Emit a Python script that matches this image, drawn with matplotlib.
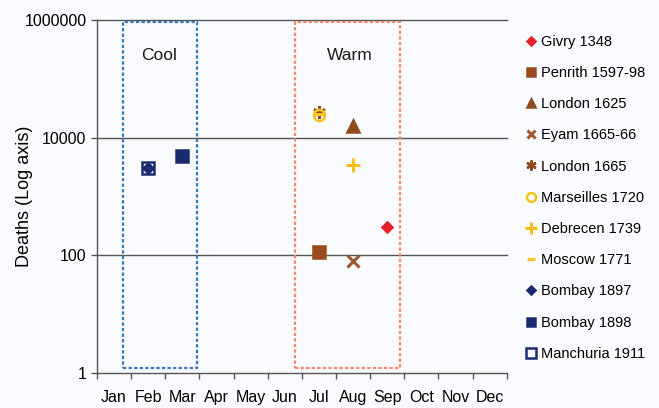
"""
Plague outbreaks by month of peak mortality, deaths on a log axis,
with cool and warm season boxes.
"""

import matplotlib.pyplot as plt
from matplotlib.patches import Rectangle
from matplotlib.ticker import FixedLocator, NullFormatter

plt.rcParams["font.family"] = ["Liberation Sans", "DejaVu Sans"]

# --- Data ---
months = ["Jan", "Feb", "Mar", "Apr", "May", "Jun",
          "Jul", "Aug", "Sep", "Oct", "Nov", "Dec"]

outbreaks = ["Givry 1348", "Penrith 1597-98", "London 1625", "Eyam 1665-66",
             "London 1665", "Marseilles 1720", "Debrecen 1739", "Moscow 1771",
             "Bombay 1897", "Bombay 1898", "Manchuria 1911"]
peak_month = [9, 7, 8, 8, 7, 7, 8, 7, 2, 3, 2]
deaths = [300, 115, 16000, 80, 27000, 24000, 3500, 25000, 3100, 4900, 3100]

colors = ["#e8202a", "#9a4a1c", "#8e4a1e", "#a0582e", "#8e4a1e", "#f7c21a",
          "#fbbd19", "#f9c22a", "#1c2a6e", "#1c2a6e", "#1c2a6e"]
markers = ["D", "s", "^", "x", (6, 2, 0), "o", "+", "_", "D", "s", "s"]
sizes = [5, 8, 8, 8, 9, 8, 10, 7, 5, 8, 9]
filled = [True, True, True, True, True, False, True, True, True, True, False]

bg = "#fafbfe"

# --- Figure ---
fig = plt.figure(figsize=(6.59, 4.08), dpi=100, facecolor=bg)
ax = fig.add_axes([0.147, 0.0858, 0.622, 0.865], facecolor=bg)

ax.set_yscale("log")
ax.set_ylim(1, 1e6)
ax.set_xlim(0.5, 12.5)

# Season boxes
ax.add_patch(Rectangle((1.26, 1.2), 3.42 - 1.26, 9.3e5 - 1.2, fill=False,
                       edgecolor="#3a78b8", linestyle=(0, (1.5, 1)),
                       linewidth=1.6, zorder=1))
ax.add_patch(Rectangle((6.29, 1.2), 9.36 - 6.29, 9.3e5 - 1.2, fill=False,
                       edgecolor="#f5876a", linestyle=(0, (1.5, 1)),
                       linewidth=1.6, zorder=1))
ax.text(2.33, 2.5e5, "Cool", fontsize=12.5, ha="center", va="center",
        color="#1a1a1a")
ax.text(7.9, 2.5e5, "Warm", fontsize=12.5, ha="center", va="center",
        color="#1a1a1a")

# Points
for name, m, d, c, mk, s, f in zip(outbreaks, peak_month, deaths, colors,
                                   markers, sizes, filled):
    lw = 2.2 if mk in ("x", "+", "_") else 1.8
    ax.plot([m], [d], linestyle="none", marker=mk, markersize=s,
            markeredgewidth=lw, color=c,
            markerfacecolor=c if f else "none", markeredgecolor=c,
            label=name, zorder=3)

# Gridlines at major decades
for yv in [1e2, 1e4, 1e6]:
    ax.axhline(yv, color="#555555", linewidth=1.0, zorder=0.5, clip_on=False)

# Axes styling
ax.set_yticks([1, 100, 10000, 1000000])
ax.set_yticklabels(["1", "100", "10000", "1000000"])
ax.yaxis.set_minor_locator(FixedLocator([]))
ax.set_xticks(range(1, 13))
ax.set_xticklabels(months)
ax.xaxis.set_minor_locator(FixedLocator([k + 0.5 for k in range(0, 13)]))
ax.xaxis.set_minor_formatter(NullFormatter())
ax.tick_params(axis="x", which="major", length=0, pad=12, labelsize=11.5)
ax.tick_params(axis="x", which="minor", length=4, width=1, color="#555555")
ax.tick_params(axis="y", which="major", length=4, width=1, color="#555555",
               labelsize=11.5)

for sp in ["top", "right"]:
    ax.spines[sp].set_visible(False)
for sp in ["left", "bottom"]:
    ax.spines[sp].set_color("#555555")
    ax.spines[sp].set_linewidth(1.0)

ax.set_ylabel("Deaths (Log axis)", fontsize=13)
ax.yaxis.set_label_coords(-0.155, 0.5)

leg = ax.legend(loc="upper left", bbox_to_anchor=(1.035, 0.975), frameon=False,
                fontsize=10.5, handlelength=0.6, handletextpad=0.35,
                labelspacing=1.18, borderaxespad=0, numpoints=1,
                markerscale=0.8)

fig.savefig("out.png", dpi=100, facecolor=bg)
